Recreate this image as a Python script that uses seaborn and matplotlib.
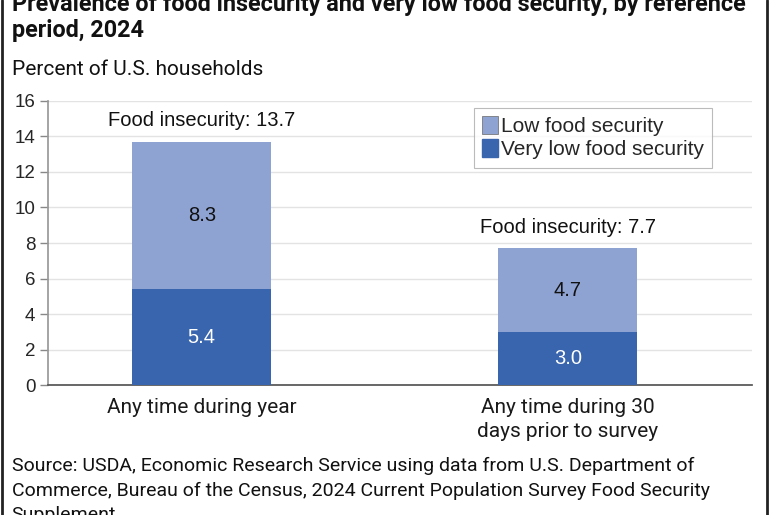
import numpy as np
import pandas as pd
import matplotlib
matplotlib.use("Agg")
import matplotlib.pyplot as plt
import seaborn as sns
from matplotlib import font_manager
from matplotlib.patches import Patch
from matplotlib.lines import Line2D

# data
periods = ["Any time during year", "Any time during 30\ndays prior to survey"]
very_low = [5.4, 3.0]
low = [8.3, 4.7]
food_insecurity = [13.7, 7.7]
yticks = [0, 2, 4, 6, 8, 10, 12, 14, 16]

light_blue = "#8fa3d3"
dark_blue = "#3965ae"

sns.set_theme(style="white")
available = {f.name for f in font_manager.fontManager.ttflist}
narrow = "Liberation Sans Narrow" if "Liberation Sans Narrow" in available else "Roboto"
plt.rcParams["font.family"] = ["Liberation Sans", "DejaVu Sans"]

df = pd.DataFrame({"period": periods, "very_low": very_low, "low": low,
                   "total": food_insecurity})

fig = plt.figure(figsize=(7.7, 5.15), dpi=100)
ax = fig.add_axes([0.0623, 0.2524, 0.9143, 0.5515])

ax.yaxis.grid(True, color="#e3e3e3", lw=1)
ax.set_axisbelow(True)

# stacked bars: total (light) underneath, very low (dark) on top
sns.barplot(data=df, x="period", y="total", color=light_blue, width=0.38,
            saturation=1, linewidth=0, ax=ax, zorder=2)
sns.barplot(data=df, x="period", y="very_low", color=dark_blue, width=0.38,
            saturation=1, linewidth=0, ax=ax, zorder=3)

ax.set_ylim(0, 16)
ax.set_xlim(-0.42, 1.503)
ax.set_yticks(yticks)
ax.set_ylabel("")
ax.set_xlabel("")
ax.tick_params(axis="y", length=6, width=1, color="#888888", labelsize=13.5, pad=3,
               left=True)
ax.tick_params(axis="x", length=0, pad=9)
for lab in ax.get_xticklabels():
    lab.set_fontfamily(narrow)
    lab.set_fontsize(15)
    lab.set_linespacing(1.35)
    lab.set_color("#1a1a1a")

for s in ["top", "right"]:
    ax.spines[s].set_visible(False)
ax.spines["left"].set_color("#999999")
ax.spines["bottom"].set_color("#555555")

for i in range(len(periods)):
    ax.text(i, very_low[i] / 2, f"{very_low[i]:.1f}", ha="center", va="center",
            color="white", fontsize=14.5, zorder=5)
    ax.text(i, very_low[i] + low[i] / 2, f"{low[i]:.1f}", ha="center", va="center",
            color="#111111", fontsize=14.5, zorder=5)
    ax.text(i, food_insecurity[i] + 1.2, f"Food insecurity: {food_insecurity[i]}",
            ha="center", va="center", color="#111111", fontsize=14.5, zorder=5)

handles = [Patch(facecolor=light_blue, edgecolor="#666666", lw=0.5, label="Low food security"),
           Patch(facecolor=dark_blue, edgecolor=dark_blue, label="Very low food security")]
leg = ax.legend(handles=handles, loc="upper left", bbox_to_anchor=(0.605, 0.975),
                fontsize=15, frameon=True, fancybox=False, edgecolor="#aaaaaa",
                handlelength=0.75, handleheight=0.9, handletextpad=0.15,
                borderpad=0.4, labelspacing=0.15, borderaxespad=0.0)
leg.get_frame().set_linewidth(0.8)

fig.text(0.015, 1.0 - 5 / 515,
         "Prevalence of food insecurity and very low food security, by reference",
         fontsize=16.8, fontweight="bold", family=narrow, va="center", color="#111111")
fig.text(0.015, 1.0 - 31 / 515, "period, 2024",
         fontsize=16.8, fontweight="bold", family=narrow, va="center", color="#111111")
fig.text(0.015, 1.0 - 70 / 515, "Percent of U.S. households",
         fontsize=15, family=narrow, va="center", color="#111111")
fig.text(0.015, 1.0 - 466 / 515,
         "Source: USDA, Economic Research Service using data from U.S. Department of",
         fontsize=14, family=narrow, va="center", color="#111111")
fig.text(0.015, 1.0 - 491 / 515,
         "Commerce, Bureau of the Census, 2024 Current Population Survey Food Security",
         fontsize=14, family=narrow, va="center", color="#111111")
fig.text(0.015, 1.0 - 515 / 515, "Supplement",
         fontsize=14, family=narrow, va="center", color="#111111")

# frame edges of the card
fig.add_artist(Line2D([0.002, 0.002], [0, 1], transform=fig.transFigure, color="#222222", lw=2))
fig.add_artist(Line2D([0.9955, 0.9955], [0, 1], transform=fig.transFigure, color="#222222", lw=2))

fig.savefig("out.png", dpi=100)
